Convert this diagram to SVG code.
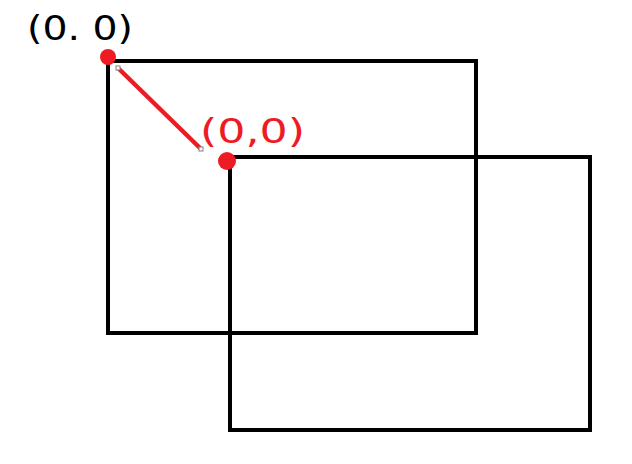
<svg xmlns="http://www.w3.org/2000/svg" width="632" height="464" viewBox="0 0 632 464">
<style>
.box{fill:none;stroke:#000;stroke-width:4}
.lbl{font-family:"DejaVu Sans","Liberation Sans",sans-serif;font-size:34px}
.dot{fill:#ed1c24}
.handle{fill:#fff;stroke:#808080;stroke-width:1}
</style>
<rect width="632" height="464" fill="#fff"/>
<g id="rect-a"><rect class="box" x="108" y="61" width="368" height="272"/></g>
<g id="rect-b"><rect class="box" x="230" y="157" width="360" height="273"/></g>
<g id="connectors">
<line x1="118" y1="68" x2="201" y2="149" stroke="#ed1c24" stroke-width="4.5"/>
</g>
<g id="origin-a">
<circle class="dot" cx="108" cy="57" r="8"/>
<text class="lbl" x="27" y="40" fill="#000" textLength="106" lengthAdjust="spacingAndGlyphs">(0. 0)</text>
</g>
<g id="origin-b">
<circle class="dot" cx="227" cy="161" r="9"/>
<text class="lbl" x="200" y="143" fill="#ed1c24" textLength="105" lengthAdjust="spacingAndGlyphs">(0,0)</text>
</g>
<g id="handles">
<rect class="handle" x="116" y="66" width="4" height="4"/>
<rect class="handle" x="199" y="147" width="4" height="4"/>
</g>
</svg>
